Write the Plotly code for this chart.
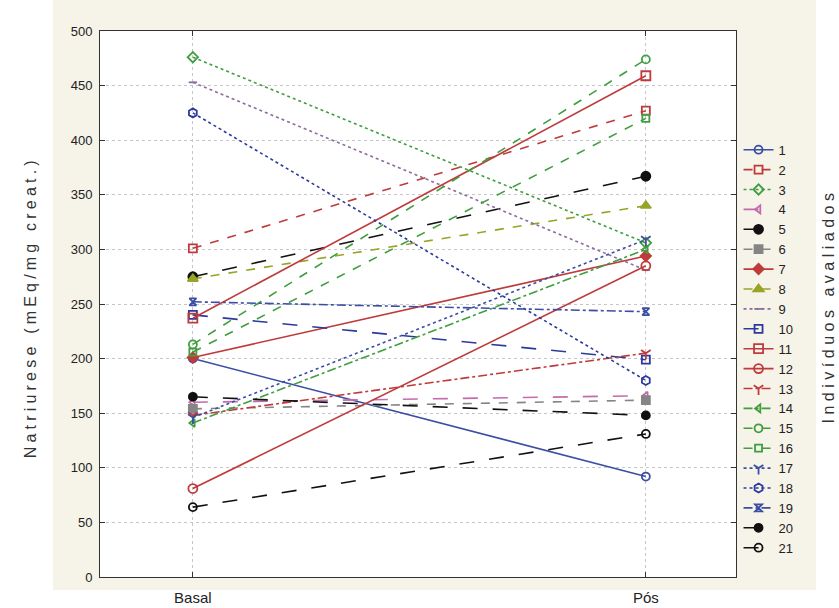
import plotly.graph_objects as go

# Natriuresis per subject, before (Basal) and after (Pós)
conditions = ["Basal", "Pós"]
subjects = [str(i) for i in range(1, 22)]
basal_values = [200, 301, 476, 160, 275, 154, 201, 273, 453, 240, 237,
                81, 148, 141, 213, 206, 146, 425, 252, 165, 64]
pos_values = [92, 427, 306, 166, 367, 162, 294, 340, 281, 199, 459,
              285, 205, 300, 474, 420, 309, 180, 243, 148, 131]
y_ticks = [0, 50, 100, 150, 200, 250, 300, 350, 400, 450, 500]

BLUE = "#3b4ea3"
NAVY = "#2c3a9c"
RED = "#bf3b3b"
GREEN = "#3f9e3f"
PINK = "#c46aae"
MAUVE = "#8c6c9c"
OLIVE = "#98a426"
GRAY = "#858585"
BLACK = "#111111"

# (colour, dash, marker symbol, marker size)
styles = [
    (BLUE, "solid", "circle-open", 8),
    (RED, "dash", "square-open", 8),
    (GREEN, "dot", "diamond-open", 8),
    (PINK, "longdash", "triangle-left-open", 7),
    (BLACK, "longdash", "circle", 9),
    (GRAY, "dash", "square", 8),
    (RED, "solid", "diamond", 8),
    (OLIVE, "dash", "triangle-up", 9),
    (MAUVE, "dot", "line-ew-open", 6),
    (NAVY, "longdash", "square-open", 8),
    (RED, "solid", "square-open", 9),
    (RED, "solid", "circle-open", 9),
    (RED, "dashdot", "y-down-open", 8),
    (GREEN, "dashdot", "triangle-left-open", 7),
    (GREEN, "dash", "circle-open", 8),
    (GREEN, "dash", "square-open", 7),
    (BLUE, "dot", "y-down-open", 8),
    (NAVY, "dot", "hexagon-open", 9),
    (BLUE, "dashdot", "hourglass-open", 7),
    (BLACK, "longdash", "circle", 8),
    (BLACK, "longdash", "circle-open", 8),
]

fig = go.Figure()
for name, b, p, (color, dash, symbol, size) in zip(subjects, basal_values, pos_values, styles):
    fig.add_trace(go.Scatter(
        x=conditions, y=[b, p], name=name, mode="lines+markers",
        line=dict(color=color, width=1.6, dash=dash),
        marker=dict(symbol=symbol, size=size, color=color,
                    line=dict(color=color, width=1.8)),
    ))

fig.update_layout(
    width=839, height=608, autosize=False,
    margin=dict(l=100, r=103, t=31, b=31),
    paper_bgcolor="white", plot_bgcolor="white",
    font=dict(family="Liberation Sans, Arial, sans-serif", color="#222"),
    showlegend=True,
    legend=dict(x=1.004, xanchor="left", y=0.81, yanchor="top",
                bgcolor="rgba(0,0,0,0)", font=dict(size=13, color="#222"),
                itemwidth=30, tracegroupgap=0, traceorder="normal"),
    shapes=[
        dict(type="rect", xref="paper", yref="paper", layer="below",
             x0=-0.074, x1=1.126, y0=-0.024, y1=1.06,
             fillcolor="#f6f3e8", line=dict(width=0)),
        dict(type="rect", xref="paper", yref="paper", layer="below",
             x0=0, x1=1, y0=0, y1=1, fillcolor="white", line=dict(width=0)),
    ],
    annotations=[
        dict(text='<span style="letter-spacing:4.2px">Natriurese (mEq/mg creat.)</span>',
             xref="paper", yref="paper", x=-0.11, y=0.494, textangle=-90,
             xanchor="center", yanchor="middle",
             showarrow=False, font=dict(size=16, color="#333")),
        dict(text='<span style="letter-spacing:4.5px">Indivíduos avaliados</span>',
             xref="paper", yref="paper", x=1.146, y=0.497, textangle=-90,
             xanchor="center", yanchor="middle",
             showarrow=False, font=dict(size=16, color="#333")),
    ],
)

fig.update_xaxes(
    type="category", range=[-0.205, 1.199], automargin=False,
    showline=True, linecolor="#333", linewidth=1, mirror="ticks",
    ticks="inside", ticklen=5, tickcolor="#333",
    showgrid=True, gridcolor="#c6c6c6", griddash="dot", gridwidth=1,
    tickfont=dict(size=15, color="#222"), ticklabelstandoff=7,
    zeroline=False,
)
fig.update_yaxes(
    range=[0, 500], tickvals=y_ticks, automargin=False,
    showline=True, linecolor="#333", linewidth=1, mirror="ticks",
    ticks="inside", ticklen=5, tickcolor="#333",
    showgrid=True, gridcolor="#c6c6c6", griddash="dot", gridwidth=1,
    tickfont=dict(size=13, color="#222"), ticklabelstandoff=4,
    zeroline=False,
)

fig.write_html("out.html")
